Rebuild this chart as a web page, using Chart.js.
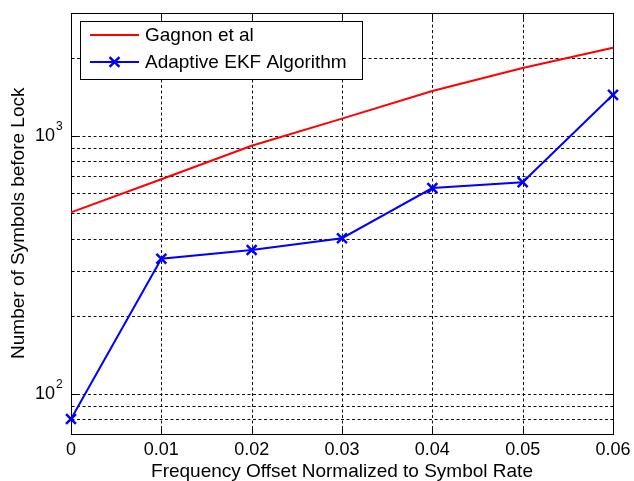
<!DOCTYPE html>
<html><head><meta charset="utf-8">
<script src="https://cdn.jsdelivr.net/npm/chart.js@4/dist/chart.umd.min.js"></script>
<style>html,body{margin:0;padding:0;background:#fff;overflow:hidden;}</style>
</head><body>
<canvas id="c" width="634" height="481"></canvas>
<script>
const offsets = [0, 0.01, 0.02, 0.03, 0.04, 0.05, 0.06];
const gagnon = [505, 678, 915, 1165, 1490, 1830, 2190];
const adaptiveEKF = [80, 334, 361, 401, 627, 661, 1440];
const seriesNames = ['Gagnon et al', 'Adaptive EKF Algorithm'];
const xTickValues = [0, 0.01, 0.02, 0.03, 0.04, 0.05, 0.06];
const xTickLabels = ['0', '0.01', '0.02', '0.03', '0.04', '0.05', '0.06'];
const yGridValues = [80, 90, 100, 200, 300, 400, 500, 600, 700, 800, 900, 1000, 2000];
const yMajorValues = [100, 1000];
const yMajorLabels = [['10', '2'], ['10', '3']];
const xTitle = 'Frequency Offset Normalized to Symbol Rate';
const yTitle = 'Number of Symbols before Lock';

const FONT = "Arial, 'Liberation Sans', sans-serif";

const matlabPlugin = {
  id: 'matlab',
  beforeDatasetsDraw(chart) {
    const {ctx, chartArea: a, scales: {x, y}} = chart;
    const L = Math.round(a.left) + 0.5, R = Math.round(a.right) + 0.5;
    const T = Math.round(a.top) + 0.5, B = Math.round(a.bottom) + 0.5;
    ctx.save();
    ctx.strokeStyle = '#111';
    ctx.lineWidth = 1;
    ctx.setLineDash([3, 2.5]);
    xTickValues.forEach(v => {
      const px = Math.round(x.getPixelForValue(v)) + 0.5;
      if (px <= L + 1 || px >= R - 1) return;
      ctx.beginPath(); ctx.moveTo(px, T); ctx.lineTo(px, B); ctx.stroke();
    });
    yGridValues.forEach(v => {
      const py = Math.round(y.getPixelForValue(v)) + 0.5;
      ctx.beginPath(); ctx.moveTo(L, py); ctx.lineTo(R, py); ctx.stroke();
    });
    ctx.setLineDash([]);
    ctx.strokeStyle = '#000';
    const tl = 5.4;
    xTickValues.forEach(v => {
      const px = Math.round(x.getPixelForValue(v)) + 0.5;
      ctx.beginPath(); ctx.moveTo(px, B); ctx.lineTo(px, B - tl); ctx.stroke();
      ctx.beginPath(); ctx.moveTo(px, T); ctx.lineTo(px, T + tl); ctx.stroke();
    });
    yGridValues.forEach(v => {
      const py = Math.round(y.getPixelForValue(v)) + 0.5;
      const len = yMajorValues.includes(v) ? tl : tl / 2;
      ctx.beginPath(); ctx.moveTo(L, py); ctx.lineTo(L + len, py); ctx.stroke();
      ctx.beginPath(); ctx.moveTo(R, py); ctx.lineTo(R - len, py); ctx.stroke();
    });
    ctx.strokeRect(L, T, R - L, B - T);
    ctx.restore();
  },
  afterDatasetsDraw(chart) {
    const {ctx} = chart;
    ctx.save();
    const lx = 80.5, ly = 21.5, lw = 282, lh = 58;
    ctx.fillStyle = '#fff';
    ctx.fillRect(lx, ly, lw, lh);
    ctx.strokeStyle = '#000'; ctx.lineWidth = 1;
    ctx.strokeRect(lx, ly, lw, lh);
    const rows = [35, 62];
    chart.data.datasets.forEach((ds, i) => {
      const ry = rows[i];
      ctx.strokeStyle = ds.borderColor; ctx.lineWidth = ds.borderWidth;
      ctx.beginPath(); ctx.moveTo(90, ry); ctx.lineTo(139, ry); ctx.stroke();
      if (ds.pointRadius > 0) {
        ctx.strokeStyle = ds.borderColor; ctx.lineWidth = ds.pointBorderWidth;
        const d = ds.pointRadius * Math.SQRT1_2;
        ctx.beginPath();
        ctx.moveTo(114.5 - d, ry - d); ctx.lineTo(114.5 + d, ry + d);
        ctx.moveTo(114.5 - d, ry + d); ctx.lineTo(114.5 + d, ry - d);
        ctx.stroke();
      }
      ctx.fillStyle = '#000';
      ctx.font = '19px ' + FONT;
      ctx.textAlign = 'left'; ctx.textBaseline = 'middle';
      ctx.fillText(ds.label, 145, ry + 1);
    });
    ctx.restore();
  },
  afterDraw(chart) {
    const {ctx, chartArea: a, scales: {x, y}} = chart;
    ctx.save();
    ctx.fillStyle = '#000';
    ctx.font = '18px ' + FONT;
    ctx.textAlign = 'center'; ctx.textBaseline = 'middle';
    xTickValues.forEach((v, i) => {
      ctx.fillText(xTickLabels[i], x.getPixelForValue(v), 450);
    });
    yMajorValues.forEach((v, i) => {
      const py = y.getPixelForValue(v);
      ctx.font = '18px ' + FONT;
      ctx.textAlign = 'right'; ctx.textBaseline = 'middle';
      ctx.fillText(yMajorLabels[i][0], 55, py);
      ctx.font = '12px ' + FONT;
      ctx.textAlign = 'left'; ctx.textBaseline = 'middle';
      ctx.fillText(yMajorLabels[i][1], 56, py - 9);
    });
    ctx.font = '19px ' + FONT;
    ctx.textAlign = 'center'; ctx.textBaseline = 'alphabetic';
    ctx.fillText(xTitle, (a.left + a.right) / 2, 477);
    ctx.translate(24, (a.top + a.bottom) / 2);
    ctx.rotate(-Math.PI / 2);
    ctx.fillText(yTitle, 0, 0);
    ctx.restore();
  }
};

new Chart(document.getElementById('c'), {
  type: 'line',
  data: {
    datasets: [
      {
        label: seriesNames[0],
        data: offsets.map((o, i) => ({x: o, y: gagnon[i]})),
        borderColor: '#ff0000', borderWidth: 2, pointRadius: 0, pointBorderWidth: 0,
        tension: 0, fill: false, clip: false
      },
      {
        label: seriesNames[1],
        data: offsets.map((o, i) => ({x: o, y: adaptiveEKF[i]})),
        borderColor: '#0000ff', borderWidth: 2,
        pointStyle: 'crossRot', pointRadius: 7, pointBorderWidth: 2.5,
        pointBorderColor: '#0000ff', pointBackgroundColor: '#0000ff',
        tension: 0, fill: false, clip: false
      }
    ]
  },
  options: {
    responsive: false,
    animation: false,
    devicePixelRatio: 1,
    layout: {padding: {left: 71, top: 12.5, right: 21, bottom: 47}},
    plugins: {legend: {display: false}, tooltip: {enabled: false}},
    scales: {
      x: {type: 'linear', min: 0, max: 0.06, display: false},
      y: {type: 'logarithmic', min: 70, max: 3000, display: false}
    }
  },
  plugins: [matlabPlugin]
});
</script>
</body></html>
